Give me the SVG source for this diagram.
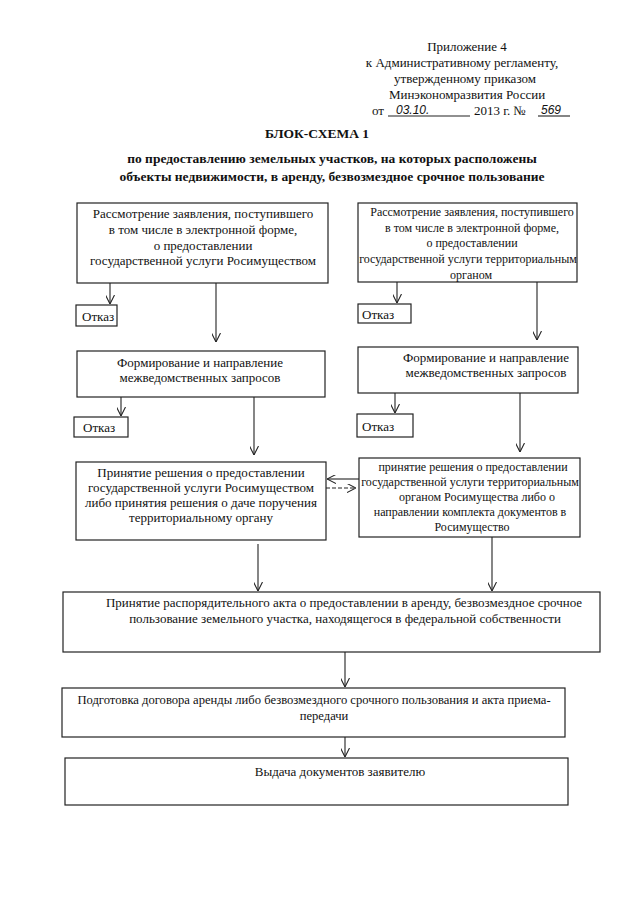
<svg xmlns="http://www.w3.org/2000/svg" width="640" height="905" viewBox="0 0 640 905">
<defs>
<style>
text{font-family:"Liberation Serif","Times New Roman",serif;font-size:13px;fill:#111;}
.b{font-weight:bold;font-size:13.5px;}
.s{font-size:12px;}
.hw{font-style:italic;font-size:12px;font-family:"Liberation Sans",sans-serif;}
.box{fill:none;stroke:#222;stroke-width:1.2;}
.ln{fill:none;stroke:#222;stroke-width:1.1;}
.c{text-anchor:middle;}
</style>
<marker id="ah" viewBox="0 0 10 10" refX="10" refY="5" markerWidth="9" markerHeight="9" markerUnits="userSpaceOnUse" orient="auto">
<polyline points="0,0 10,5 0,10" fill="none" stroke="#222" stroke-width="1.2"/>
</marker>
</defs>
<rect width="640" height="905" fill="#fff"/>

<g id="header">
<text x="467" y="51" class="c">Приложение 4</text>
<text x="462" y="67" class="c">к Административному регламенту,</text>
<text x="465" y="83" class="c">утвержденному приказом</text>
<text x="467" y="99" class="c">Минэкономразвития России</text>
<text x="372" y="115">от</text>
<line x1="388" y1="116" x2="470" y2="116" class="ln" stroke-width="0.8"/>
<text x="396" y="114" class="hw">03.10.</text>
<text x="474" y="115">2013 г. №</text>
<text x="541" y="114" class="hw">569</text>
<line x1="538" y1="116" x2="570" y2="116" class="ln" stroke-width="0.8"/>
</g>

<g id="title">
<text x="317" y="138" class="c b">БЛОК-СХЕМА 1</text>
<text x="332" y="163" class="c b">по предоставлению земельных участков, на которых расположены</text>
<text x="332" y="181" class="c b">объекты недвижимости, в аренду, безвозмездное срочное пользование</text>
</g>

<g id="connectors">
<line x1="110" y1="283" x2="110" y2="304" class="ln" marker-end="url(#ah)"/>
<line x1="216" y1="283" x2="216" y2="342" class="ln" marker-end="url(#ah)"/>
<line x1="121" y1="397" x2="121" y2="416" class="ln" marker-end="url(#ah)"/>
<line x1="254" y1="397" x2="254" y2="455" class="ln" marker-end="url(#ah)"/>
<line x1="397" y1="282" x2="397" y2="303" class="ln" marker-end="url(#ah)"/>
<line x1="537" y1="282" x2="537" y2="340" class="ln" marker-end="url(#ah)"/>
<line x1="395" y1="393" x2="395" y2="413" class="ln" marker-end="url(#ah)"/>
<line x1="520" y1="393" x2="520" y2="452" class="ln" marker-end="url(#ah)"/>
<line x1="359" y1="479" x2="327" y2="479" class="ln" stroke-width="1.5" marker-end="url(#ah)"/>
<line x1="326" y1="488" x2="356" y2="488" class="ln" stroke-dasharray="4,2" marker-end="url(#ah)"/>
<line x1="258" y1="544" x2="258" y2="591" class="ln" marker-end="url(#ah)"/>
<line x1="492" y1="537" x2="492" y2="591" class="ln" marker-end="url(#ah)"/>
<line x1="345" y1="652" x2="345" y2="687" class="ln" marker-end="url(#ah)"/>
<line x1="345" y1="737" x2="345" y2="757" class="ln" marker-end="url(#ah)"/>
</g>

<g id="nodeA">
<rect x="77" y="203" width="251" height="80" class="box"/>
<text x="203" y="218" class="c">Рассмотрение заявления, поступившего</text>
<text x="203" y="234" class="c">в том числе в электронной форме,</text>
<text x="203" y="250" class="c">о предоставлении</text>
<text x="203" y="265" class="c">государственной услуги Росимуществом</text>
</g>

<g id="nodeB">
<rect x="358" y="203" width="219" height="79" class="box"/>
<text x="472" y="216" class="c s">Рассмотрение заявления, поступившего</text>
<text x="472" y="232" class="c s">в том числе в электронной форме,</text>
<text x="472" y="247" class="c s">о предоставлении</text>
<text x="468" y="263" class="c s">государственной услуги территориальным</text>
<text x="471" y="279" class="c s">органом</text>
</g>

<g id="refuse1">
<rect x="76" y="305" width="41" height="21" class="box"/>
<text x="82" y="321">Отказ</text>
</g>
<g id="refuse2">
<rect x="358" y="304" width="53" height="19" class="box"/>
<text x="362" y="319">Отказ</text>
</g>

<g id="nodeC">
<rect x="77" y="351" width="248" height="46" class="box"/>
<text x="200" y="367" class="c">Формирование и направление</text>
<text x="200" y="382" class="c">межведомственных запросов</text>
</g>

<g id="nodeD">
<rect x="358" y="347" width="220" height="46" class="box"/>
<text x="486" y="362" class="c">Формирование и направление</text>
<text x="486" y="377" class="c">межведомственных запросов</text>
</g>

<g id="refuse3">
<rect x="74" y="417" width="54" height="20" class="box"/>
<text x="83" y="432">Отказ</text>
</g>
<g id="refuse4">
<rect x="357" y="414" width="56" height="23" class="box"/>
<text x="362" y="431">Отказ</text>
</g>

<g id="nodeE">
<rect x="76" y="462" width="250" height="78" class="box"/>
<text x="201" y="477" class="c">Принятие решения о предоставлении</text>
<text x="201" y="492" class="c">государственной услуги Росимуществом</text>
<text x="201" y="507" class="c">либо принятия решения о даче поручения</text>
<text x="201" y="522" class="c">территориальному органу</text>
</g>

<g id="nodeF">
<rect x="359" y="458" width="221" height="79" class="box"/>
<text x="473" y="471" class="c s">принятие решения о предоставлении</text>
<text x="470" y="486" class="c s">государственной услуги территориальным</text>
<text x="477" y="501" class="c s">органом Росимущества либо о</text>
<text x="470" y="516" class="c s">направлении комплекта документов в</text>
<text x="472" y="531" class="c s">Росимущество</text>
</g>

<g id="nodeG">
<rect x="63" y="592" width="537" height="60" class="box"/>
<text x="344" y="607" class="c">Принятие распорядительного акта о предоставлении в аренду, безвозмездное срочное</text>
<text x="345" y="623" class="c">пользование земельного участка, находящегося в федеральной собственности</text>
</g>

<g id="nodeH">
<rect x="62" y="688" width="503" height="49" class="box"/>
<text x="314" y="704" class="c" style="font-size:12.6px">Подготовка договора аренды либо безвозмездного срочного пользования и акта приема-</text>
<text x="324" y="720" class="c" style="font-size:12.6px">передачи</text>
</g>

<g id="nodeI">
<rect x="65" y="758" width="503" height="47" class="box"/>
<text x="340" y="776" class="c">Выдача документов заявителю</text>
</g>
</svg>
